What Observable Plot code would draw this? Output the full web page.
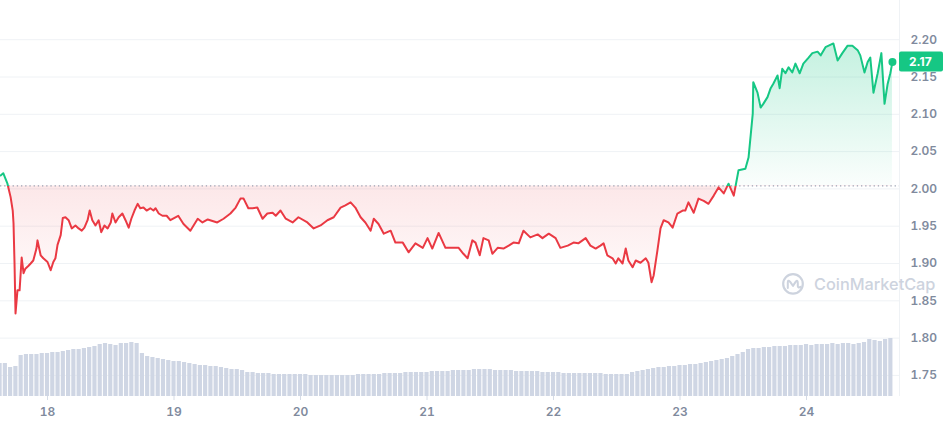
<!DOCTYPE html>
<html>
<head>
<meta charset="utf-8">
<script src="https://cdn.jsdelivr.net/npm/d3@7"></script>
<script src="https://cdn.jsdelivr.net/npm/@observablehq/plot@0.6"></script>
<style>
  body { margin: 0; background: #fff; }
  #wrap { position: relative; width: 943px; height: 423px; overflow: hidden; }
  #wrap svg { position: absolute; left: 0; top: 0; }
</style>
</head>
<body>
<div id="wrap"></div>
<script>
// ---- data ----
const dayTicks = [18, 19, 20, 21, 22, 23, 24];
const yTicks = [1.75, 1.80, 1.85, 1.90, 1.95, 2.00, 2.05, 2.10, 2.15, 2.20];
const baseline = 2.004;

// hours since day 18 00:00
const hours = [
  -8.9, -8.4, -7.6, -7.4, -7.0, -6.6, -6.45, -6.26, -6.07, -5.7, -5.3, -4.9, -4.55, -4.2, -3.6, -3.2, -2.7, -2.1, -1.9, -1.3, -0.8,
  0, 0.6, 1.1, 1.5, 1.9, 2.5, 2.9, 3.4, 4.0, 4.6, 5.3, 5.9, 6.5, 7.0, 7.6, 8.0, 8.5, 9.1, 9.7, 10.2, 10.8, 11.4, 12.0, 12.3, 12.9,
  13.5, 14.2, 14.8, 15.4, 15.9, 16.5, 17.1, 17.6, 18.2, 18.8, 19.5, 20.1, 20.5, 21.1, 21.8, 22.6, 23.3,
  24.8, 25.8, 27.1, 28.5, 29.4, 30.4, 32.2, 33.4, 34.7, 35.7, 36.6, 37.2, 38.1, 38.9, 39.8, 40.8, 41.7, 42.7, 43.3, 44.2, 45.2, 46.5, 47.6,
  49.3, 50.5, 51.8, 53.1, 54.3, 55.6, 56.5, 57.5, 58.4, 59.4, 60.3, 61.3, 61.9, 62.8, 63.8, 65.1, 66.0, 67.4, 68.5, 69.8, 71.2,
  72.1, 73.0, 74.2, 75.5, 76.8, 78.0, 78.9, 79.7, 80.6, 81.2, 82.0, 82.7, 83.7, 84.4, 85.4, 86.5, 87.5, 88.4, 89.4, 90.3, 91.6,
  93.0, 93.9, 95.1, 96.4, 97.3, 98.7, 99.8, 100.7, 102.1, 103.0, 104.0, 104.9, 105.5, 106.2, 107.2, 107.8, 108.3, 109.1, 109.7,
  110.2, 111.0, 111.6, 112.5, 113.5, 114.0, 114.6, 115.0, 115.7, 116.3, 116.9, 117.8, 118.6, 119.5, 120.5, 121.0, 121.6, 122.6,
  123.5, 124.5, 125.4, 126.4, 127.3, 128.3, 129.2, 130.2, 131.1, 132.4, 133.0, 133.8, 133.9, 134.7, 135.3, 135.8, 136.6, 137.2,
  137.7, 138.5, 138.9, 139.4, 140.0, 140.6, 141.3, 141.9, 142.7, 143.4, 144.4, 145.1, 146.1, 146.7, 147.6, 148.2, 149.1, 149.9,
  150.8, 151.8, 152.7, 153.7, 154.2, 155.0, 155.6, 156.1, 156.7, 157.5, 158.2, 158.8, 159.4, 159.9, 160.3
];
const prices = [
  2.018, 2.021, 2.007, 2.001, 1.989, 1.971, 1.954, 1.900, 1.833, 1.864, 1.864, 1.908, 1.887, 1.893, 1.897, 1.900, 1.904, 1.920, 1.931, 1.911, 1.907,
  1.902, 1.891, 1.902, 1.907, 1.925, 1.938, 1.961, 1.962, 1.958, 1.947, 1.951, 1.947, 1.944, 1.948, 1.958, 1.971, 1.958, 1.951, 1.958, 1.942, 1.951, 1.947, 1.955, 1.967, 1.955,
  1.962, 1.967, 1.958, 1.948, 1.960, 1.971, 1.980, 1.974, 1.975, 1.971, 1.974, 1.971, 1.974, 1.967, 1.964, 1.964, 1.958,
  1.964, 1.953, 1.944, 1.960, 1.955, 1.959, 1.955, 1.960, 1.967, 1.975, 1.987, 1.987, 1.974, 1.974, 1.975, 1.960, 1.967, 1.968, 1.964, 1.971, 1.960, 1.955, 1.962,
  1.955, 1.947, 1.951, 1.958, 1.962, 1.975, 1.978, 1.982, 1.975, 1.962, 1.955, 1.944, 1.960, 1.953, 1.940, 1.944, 1.928, 1.928, 1.915, 1.927, 1.921,
  1.934, 1.920, 1.941, 1.921, 1.921, 1.921, 1.913, 1.907, 1.931, 1.928, 1.911, 1.934, 1.931, 1.913, 1.921, 1.920, 1.924, 1.928, 1.927, 1.944, 1.935,
  1.939, 1.934, 1.940, 1.934, 1.921, 1.924, 1.928, 1.927, 1.934, 1.924, 1.920, 1.924, 1.927, 1.911, 1.907, 1.900, 1.907, 1.900, 1.920,
  1.904, 1.895, 1.904, 1.901, 1.907, 1.901, 1.875, 1.884, 1.917, 1.947, 1.958, 1.955, 1.948, 1.967, 1.971, 1.971, 1.982, 1.968,
  1.987, 1.984, 1.980, 1.991, 2.002, 1.994, 2.007, 1.991, 2.025, 2.027, 2.042, 2.101, 2.143, 2.129, 2.109, 2.114, 2.123, 2.135,
  2.141, 2.152, 2.135, 2.161, 2.155, 2.163, 2.156, 2.168, 2.155, 2.168, 2.176, 2.182, 2.184, 2.179, 2.190, 2.192, 2.195, 2.172,
  2.182, 2.192, 2.192, 2.186, 2.179, 2.156, 2.170, 2.176, 2.129, 2.155, 2.182, 2.114, 2.141, 2.155, 2.170
];

// hourly volume (relative units), first bar at hour -9
const volStartHour = -9;
const volumes = [
  33, 33, 29, 30, 41, 42, 42, 42, 43,
  43, 44, 44, 45, 46, 47, 47, 48, 49, 50,
  52, 53, 52, 51, 53, 53, 54, 53, 43, 40,
  39, 38, 37, 36, 35, 35, 34, 33, 32, 31,
  31, 30, 30, 29, 28, 27, 27, 26, 24, 24,
  23, 23, 23, 22, 22, 22, 22, 22, 22,
  22, 21, 21, 21, 21, 21, 21,
  21, 21, 21, 22, 22, 22, 22,
  22, 23, 23, 23, 23, 24, 24, 24,
  24, 24, 25, 25, 25, 25, 26, 26, 26, 26,
  27, 27, 27, 27, 26, 26, 26, 26, 25, 25,
  25, 25, 25, 24, 24, 24, 24, 23, 23, 23,
  23, 23, 23, 23, 23, 22, 22, 22, 22, 22,
  24, 25, 26, 27, 28,
  29, 29, 30, 30, 31, 31, 32, 32, 33, 34,
  35, 36, 37, 38, 40, 42, 44, 47,
  48, 48, 49, 49, 50, 50, 50, 51,
  51, 51, 52, 51, 52, 52, 52, 53, 52,
  53, 53, 52, 53, 54, 57, 56, 55, 57, 58
];

// ---- build ----
const START = Date.UTC(2024, 0, 18);
const toDate = h => new Date(START + h * 3600e3);
const priceData = hours.map((h, i) => ({date: toDate(h), price: prices[i]}));
const volData = volumes.map((v, i) => ({hour: volStartHour + i, vol: v}));
const tickDates = dayTicks.map(d => new Date(Date.UTC(2024, 0, d)));
const xDomain = [toDate(-8.92), toDate(161.64)];

const W = 943, H = 423;
const MR = 44, MB = 27;
const GREEN = "#16c784", RED = "#ea3943";
const TXT = "#808a9d", GRID = "#eff2f5";

const priceChart = Plot.plot({
  width: W, height: H,
  marginLeft: 0, marginRight: MR, marginTop: 0, marginBottom: MB,
  style: {fontFamily: "Inter, 'Noto Sans', sans-serif", fontSize: "12px", fontWeight: 600, background: "transparent", overflow: "visible"},
  x: {type: "utc", domain: xDomain, label: null},
  y: {domain: [1.75, 2.20], range: [374.9, 39.2], label: null},
  marks: [
    Plot.gridY(yTicks, {stroke: GRID, strokeOpacity: 1}),
    Plot.ruleX([xDomain[1]], {stroke: GRID}),
    Plot.areaY(priceData, {x: "date", y1: baseline, y2: "price", fill: "url(#fillGrad)"}),
    Plot.ruleY([baseline], {stroke: "#9aa3b3", strokeWidth: 1.2, strokeDasharray: "1.3,2.9"}),
    Plot.line(priceData, {x: "date", y: "price", stroke: "url(#lineGrad)", strokeWidth: 2, strokeLinejoin: "round"}),
    Plot.dot([priceData[priceData.length - 1]], {x: "date", y: "price", r: 4, fill: GREEN}),
    Plot.axisY(yTicks, {anchor: "right", label: null, tickSize: 0, tickPadding: 11, tickFormat: d3.format(".2f"), fill: TXT}),
    Plot.axisX(tickDates, {label: null, tickSize: 4, tickPadding: 7, tickFormat: d => String(d.getUTCDate()), stroke: "#d6dce6", fill: TXT})
  ]
});

const volChart = Plot.plot({
  width: W, height: H,
  marginLeft: 0, marginRight: MR, marginTop: 0, marginBottom: MB,
  style: {background: "transparent"},
  x: {type: "utc", domain: xDomain, axis: null},
  y: {domain: [0, 58], range: [H - MB, H - MB - 58], axis: null},
  marks: [
    Plot.rect(volData, {
      x1: d => toDate(d.hour - 0.5), x2: d => toDate(d.hour + 0.5),
      y1: 0, y2: "vol", insetLeft: 0.55, insetRight: 0.55, fill: "#cfd6e4"
    })
  ]
});

// gradients
const svg = d3.select(priceChart);
const yS = priceChart.scale("y");
const by = yS.apply(baseline);
const defs = svg.insert("defs", ":first-child");
const lg = defs.append("linearGradient").attr("id", "lineGrad").attr("gradientUnits", "userSpaceOnUse")
  .attr("x1", 0).attr("x2", 0).attr("y1", 0).attr("y2", H);
lg.append("stop").attr("offset", by / H).attr("stop-color", GREEN);
lg.append("stop").attr("offset", by / H).attr("stop-color", RED);
const fg = defs.append("linearGradient").attr("id", "fillGrad").attr("gradientUnits", "userSpaceOnUse")
  .attr("x1", 0).attr("x2", 0).attr("y1", 0).attr("y2", H);
fg.append("stop").attr("offset", yS.apply(2.20) / H).attr("stop-color", GREEN).attr("stop-opacity", 0.26);
fg.append("stop").attr("offset", by / H).attr("stop-color", GREEN).attr("stop-opacity", 0.02);
fg.append("stop").attr("offset", by / H).attr("stop-color", RED).attr("stop-opacity", 0.12);
fg.append("stop").attr("offset", yS.apply(1.84) / H).attr("stop-color", RED).attr("stop-opacity", 0);

// watermark
const WM = "#cdd3de";
const wm = svg.append("g").attr("fill", WM).attr("stroke", "none").attr("text-anchor", "start");
const lx = W - MR - 106, ly0 = yS.apply(1.872);
wm.append("circle").attr("cx", lx).attr("cy", ly0).attr("r", 9.8).attr("fill", "none").attr("stroke", WM).attr("stroke-width", 2.2);
wm.append("path").attr("transform", `translate(${lx},${ly0})`)
  .attr("d", "M-5.2,4 L-5.2,-1.5 Q-5.2,-4.5 -3,-2.2 L0,2 L2.6,-2 Q4.8,-4.6 4.8,-1 L4.8,2.2 Q5.2,4.6 7.5,3")
  .attr("fill", "none").attr("stroke", WM).attr("stroke-width", 2).attr("stroke-linecap", "round").attr("stroke-linejoin", "round");
wm.append("text").attr("x", lx + 21).attr("y", ly0 + 6).attr("font-size", 16.3).attr("font-weight", 500).text("CoinMarketCap");

// last price tag
const last = prices[prices.length - 1];
const ty = yS.apply(last);
const tag = svg.append("g").attr("text-anchor", "start");
tag.append("rect").attr("x", W - MR).attr("y", ty - 10).attr("width", MR).attr("height", 20).attr("rx", 2).attr("fill", GREEN);
tag.append("text").attr("x", W - MR + 10).attr("y", ty).attr("dy", "0.35em").attr("fill", "#fff").attr("font-weight", 700).text(last.toFixed(2));

const wrap = document.getElementById("wrap");
wrap.appendChild(priceChart);
wrap.appendChild(volChart);
</script>
</body>
</html>
